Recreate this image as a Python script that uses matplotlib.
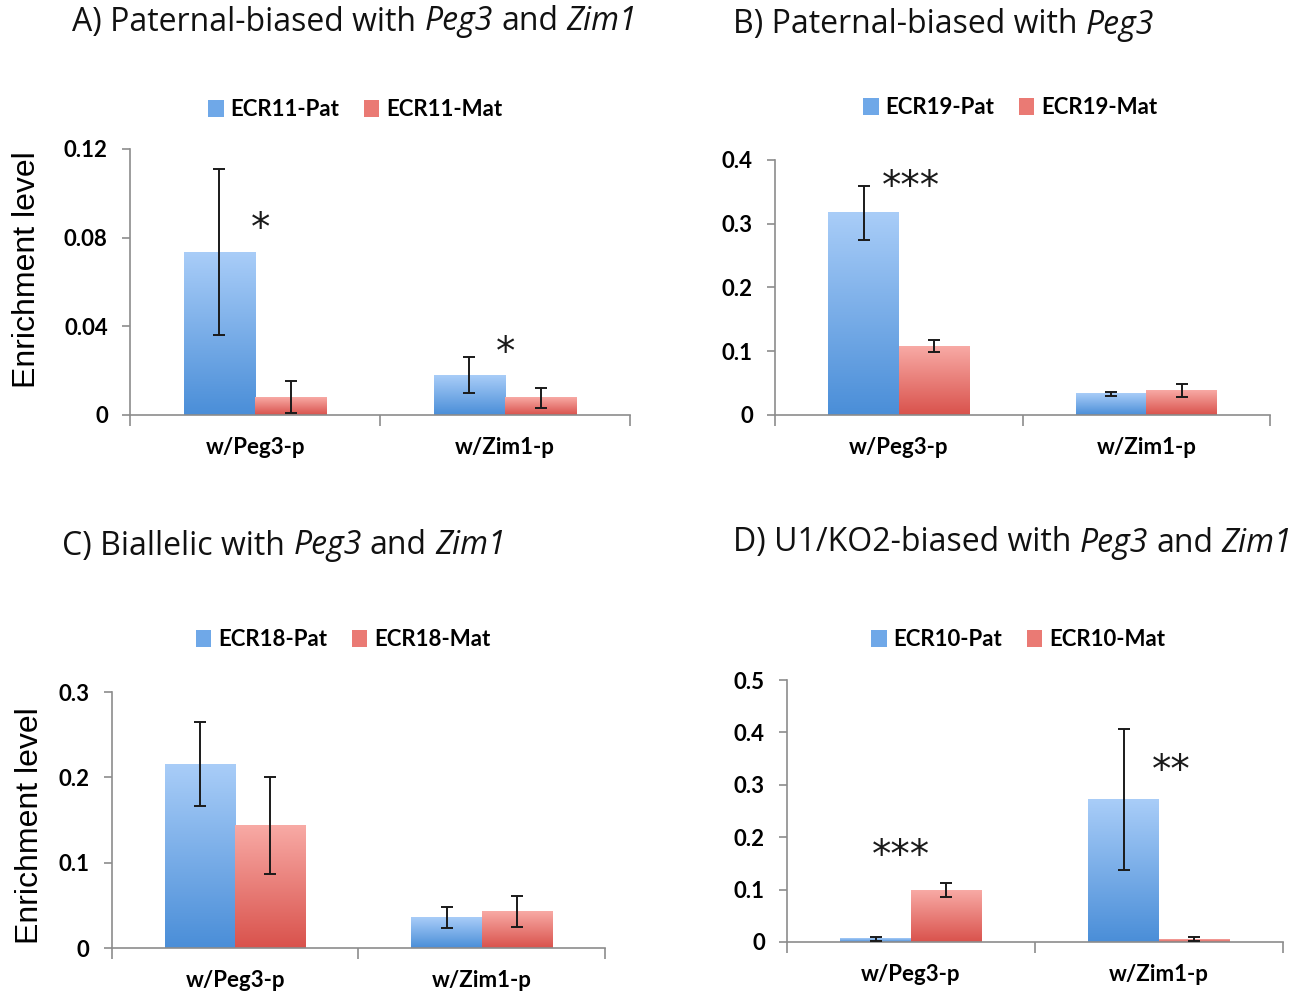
import matplotlib
matplotlib.use("Agg")
import numpy as np
from matplotlib import pyplot as plt
from matplotlib.colors import LinearSegmentedColormap
from matplotlib.patches import Patch
from matplotlib.text import Annotation

CATEGORIES = ["w/Peg3-p", "w/Zim1-p"]

# panel A
A_PAT = [0.0735, 0.0180]
A_PAT_ERR = [0.0376, 0.0083]
A_MAT = [0.0081, 0.0077]
A_MAT_ERR = [0.0070, 0.0045]
A_TICKS = [0, 0.04, 0.08, 0.12]
A_TICKLABELS = ["0", "0.04", "0.08", "0.12"]
A_STARS = [(0.02, 0.084, "*"), (1.0, 0.028, "*")]

# panel B
B_PAT = [0.317, 0.033]
B_PAT_ERR = [0.042, 0.003]
B_MAT = [0.108, 0.038]
B_MAT_ERR = [0.010, 0.010]
B_TICKS = [0, 0.1, 0.2, 0.3, 0.4]
B_TICKLABELS = ["0", "0.1", "0.2", "0.3", "0.4"]
B_STARS = [(0.05, 0.358, "***")]

# panel C
C_PAT = [0.2155, 0.036]
C_PAT_ERR = [0.049, 0.012]
C_MAT = [0.144, 0.043]
C_MAT_ERR = [0.057, 0.018]
C_TICKS = [0, 0.1, 0.2, 0.3]
C_TICKLABELS = ["0", "0.1", "0.2", "0.3"]
C_STARS = []

# panel D
D_PAT = [0.006, 0.272]
D_PAT_ERR = [0.004, 0.134]
D_MAT = [0.099, 0.005]
D_MAT_ERR = [0.014, 0.004]
D_TICKS = [0, 0.1, 0.2, 0.3, 0.4, 0.5]
D_TICKLABELS = ["0", "0.1", "0.2", "0.3", "0.4", "0.5"]
D_STARS = [(-0.04, 0.165, "***"), (1.05, 0.326, "**")]

BLUE_CMAP = LinearSegmentedColormap.from_list("blue", ["#4a8ed8", "#a9cdf8"])
RED_CMAP = LinearSegmentedColormap.from_list("red", ["#d9524c", "#f8aaa5"])
AXIS_GRAY = "#8c8c8c"
BAR_W = 0.285
TICK_FONT = "Lato"
W, H = 1311, 993


def gradient_bars(ax, xs, vals, cmap):
    bars = ax.bar(xs, vals, width=BAR_W, color="none", edgecolor="none")
    grad = np.linspace(0, 1, 256).reshape(-1, 1)
    for rect in bars:
        x0, w, h = rect.get_x(), rect.get_width(), rect.get_height()
        ax.imshow(grad, extent=[x0, x0 + w, 0, h], origin="lower",
                  aspect="auto", cmap=cmap, zorder=2, interpolation="bicubic")
    return bars


def draw_panel(ax, pat, pat_err, mat, mat_err, ticks, ticklabels, stars,
               series, legend_xy, ylabel_xy=None):
    x = np.arange(len(CATEGORIES))
    gradient_bars(ax, x - BAR_W / 2, pat, BLUE_CMAP)
    gradient_bars(ax, x + BAR_W / 2, mat, RED_CMAP)
    ax.errorbar(x - BAR_W / 2, pat, yerr=pat_err, fmt="none", ecolor="#1a1a1a",
                elinewidth=1.4, capsize=4.5, capthick=1.4, zorder=3)
    ax.errorbar(x + BAR_W / 2, mat, yerr=mat_err, fmt="none", ecolor="#1a1a1a",
                elinewidth=1.4, capsize=4.5, capthick=1.4, zorder=3)
    for sx, sy, s in stars:
        ax.text(sx, sy, s, ha="center", va="center", fontsize=28,
                family="DejaVu Sans", color="#1a1a1a")

    ax.set_xlim(-0.5, len(CATEGORIES) - 0.5)
    ax.set_ylim(0, ticks[-1])
    ax.set_yticks(ticks)
    ax.set_yticklabels(ticklabels, fontsize=16, fontweight="bold", family=TICK_FONT)
    ax.set_xticks(x)
    ax.set_xticklabels(CATEGORIES, fontsize=16, fontweight="bold", family=TICK_FONT)
    ax.set_xticks(np.arange(-0.5, len(CATEGORIES)), minor=True)
    ax.tick_params(axis="x", which="major", length=0, pad=16)
    ax.tick_params(axis="x", which="minor", length=8, color=AXIS_GRAY, width=1.2)
    ax.tick_params(axis="y", length=6, color=AXIS_GRAY, width=1.2, pad=10)
    for side in ("top", "right"):
        ax.spines[side].set_visible(False)
    for side in ("left", "bottom"):
        ax.spines[side].set_color(AXIS_GRAY)
        ax.spines[side].set_linewidth(1.2)

    handles = [Patch(facecolor="#6fa8e8", label=f"{series}-Pat"),
               Patch(facecolor="#ea7a74", label=f"{series}-Mat")]
    ax.legend(handles=handles, loc="center",
              bbox_to_anchor=(legend_xy[0] / W, 1 - legend_xy[1] / H),
              bbox_transform=ax.figure.transFigure,
              ncol=2, frameon=False, handlelength=0.7, handleheight=0.8,
              handletextpad=0.3, columnspacing=1.1,
              prop={"family": TICK_FONT, "weight": "bold", "size": 16})
    if ylabel_xy is not None:
        ax.set_ylabel("Enrichment level", fontsize=23, family="Liberation Sans")
        ax.yaxis.set_label_coords(*ylabel_xy)


def rich_title(fig, x_px, y_px, parts):
    kw = dict(fontsize=23, family="Open Sans", color="#111111")
    text, italic = parts[0]
    t = fig.text(x_px / W, 1 - y_px / H, text, va="center", ha="left",
                 style="italic" if italic else "normal", **kw)
    for text, italic in parts[1:]:
        t = Annotation(text, xy=(1, 0), xycoords=t, xytext=(6.0, 0),
                       textcoords="offset points", va="bottom", ha="left",
                       style="italic" if italic else "normal", **kw)
        fig.add_artist(t)


fig = plt.figure(figsize=(13.11, 9.93), dpi=100)

ax_a = fig.add_axes([0.0992, 0.5821, 0.3814, 0.2679])
ax_b = fig.add_axes([0.5912, 0.5821, 0.3776, 0.2568])
ax_c = fig.add_axes([0.0854, 0.0453, 0.3761, 0.2578])
ax_d = fig.add_axes([0.6003, 0.0514, 0.3783, 0.2638])

draw_panel(ax_a, A_PAT, A_PAT_ERR, A_MAT, A_MAT_ERR, A_TICKS, A_TICKLABELS,
           A_STARS, "ECR11", (355, 110), ylabel_xy=(-0.176, 0.545))
draw_panel(ax_b, B_PAT, B_PAT_ERR, B_MAT, B_MAT_ERR, B_TICKS, B_TICKLABELS,
           B_STARS, "ECR19", (1010, 108))
draw_panel(ax_c, C_PAT, C_PAT_ERR, C_MAT, C_MAT_ERR, C_TICKS, C_TICKLABELS,
           C_STARS, "ECR18", (343, 640), ylabel_xy=(-0.136, 0.477))
draw_panel(ax_d, D_PAT, D_PAT_ERR, D_MAT, D_MAT_ERR, D_TICKS, D_TICKLABELS,
           D_STARS, "ECR10", (1018, 640))

rich_title(fig, 72, 22, [("A) Paternal-biased with", False), ("Peg3", True),
                         ("and", False), ("Zim1", True)])
rich_title(fig, 733, 25, [("B) Paternal-biased with", False), ("Peg3", True)])
rich_title(fig, 62, 546, [("C) Biallelic with", False), ("Peg3", True),
                          ("and", False), ("Zim1", True)])
rich_title(fig, 733, 543, [("D) U1/KO2-biased with", False), ("Peg3", True),
                           ("and", False), ("Zim1", True)])

fig.savefig("out.png", dpi=100)
